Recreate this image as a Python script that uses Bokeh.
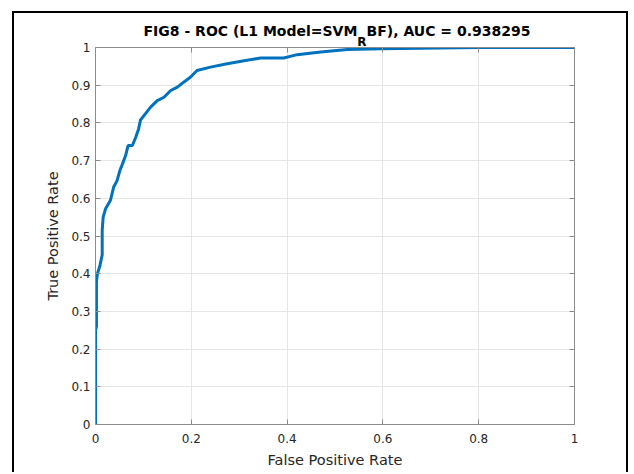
from bokeh.plotting import figure
from bokeh.layouts import column
from bokeh.models import Range1d, LinearAxis, FixedTicker, CustomJSTickFormatter, Div
from bokeh.embed import file_html
from bokeh.resources import INLINE

# ---- data ----
fpr = [0, 0, 0.002, 0.002, 0.004, 0.009, 0.014, 0.014, 0.016, 0.021, 0.031, 0.038,
       0.045, 0.051, 0.056, 0.063, 0.068, 0.077, 0.084, 0.090, 0.094, 0.104, 0.115,
       0.129, 0.143, 0.157, 0.171, 0.184, 0.198, 0.212, 0.240, 0.275, 0.310, 0.345,
       0.393, 0.421, 0.470, 0.526, 0.596, 0.800, 1.0]
tpr = [0, 0.25, 0.26, 0.38, 0.40, 0.42, 0.45, 0.515, 0.55, 0.572, 0.594, 0.63,
       0.647, 0.674, 0.69, 0.714, 0.74, 0.74, 0.762, 0.784, 0.808, 0.824, 0.842,
       0.859, 0.868, 0.886, 0.895, 0.908, 0.921, 0.939, 0.948, 0.957, 0.965, 0.972,
       0.972, 0.981, 0.988, 0.995, 0.997, 1.0, 1.0]

x_ticks = [0, 0.2, 0.4, 0.6, 0.8, 1]
x_tick_labels = ["0", "0.2", "0.4", "0.6", "0.8", "1"]
y_ticks = [0, 0.1, 0.2, 0.3, 0.4, 0.5, 0.6, 0.7, 0.8, 0.9, 1]
y_tick_labels = ["0", "0.1", "0.2", "0.3", "0.4", "0.5", "0.6", "0.7", "0.8", "0.9", "1"]

title_main = "FIG8 - ROC (L1 Model=SVM"
title_sub = "R"
title_rest = "BF), AUC = 0.938295"
x_label = "False Positive Rate"
y_label = "True Positive Rate"

FONT = "DejaVu Sans"
TXT = "#262626"
AX = "#8c8c8c"
GRID = "#e6e6e6"

p = figure(width=616, height=461, x_range=Range1d(0, 1), y_range=Range1d(0, 1),
           output_backend="svg", toolbar_location=None, title=None,
           min_border_left=81, min_border_right=56, min_border_top=34,
           min_border_bottom=50)
p.styles = {"border-top": "2px solid #000", "border-left": "2px solid #000",
            "border-right": "2px solid #000", "margin-left": "12px", "margin-top": "11px",
            "margin-bottom": "-20px", "margin-right": "-12px"}
p.outline_line_color = None
p.background_fill_color = "white"
p.border_fill_color = "white"

p.line(fpr, tpr, line_color="#0072BD", line_width=3)

def style_axis(ax, ticks, labels=None):
    ax.ticker = FixedTicker(ticks=ticks)
    ax.major_tick_in = 5
    ax.major_tick_out = 0
    ax.minor_tick_line_color = None
    ax.axis_line_color = AX
    ax.axis_line_width = 1
    ax.major_tick_line_color = AX
    ax.major_label_text_font = FONT
    ax.major_label_text_font_size = "12px"
    ax.major_label_text_color = TXT
    if labels is not None:
        ax.major_label_overrides = {t: s for t, s in zip(ticks, labels)}

xa = p.xaxis[0]
ya = p.yaxis[0]
style_axis(xa, x_ticks, x_tick_labels)
style_axis(ya, y_ticks, y_tick_labels)
xa.major_label_standoff = 9
ya.major_label_standoff = 5
xa.axis_label = x_label
ya.axis_label = y_label
for ax in (xa, ya):
    ax.axis_label_text_font = FONT
    ax.axis_label_text_font_size = "14.5px"
    ax.axis_label_text_font_style = "normal"
    ax.axis_label_text_color = TXT
xa.axis_label_standoff = 6
ya.axis_label_standoff = 7

blank = CustomJSTickFormatter(code="return ''")
top = LinearAxis(formatter=blank)
right = LinearAxis(formatter=blank)
style_axis(top, x_ticks)
style_axis(right, y_ticks)
top.major_label_standoff = 0
right.major_label_standoff = 0
p.add_layout(top, "above")
p.add_layout(right, "right")

p.xgrid.ticker = FixedTicker(ticks=x_ticks)
p.ygrid.ticker = FixedTicker(ticks=y_ticks)
for g in (p.xgrid[0], p.ygrid[0]):
    g.grid_line_color = GRID
    g.grid_line_width = 1

# title with subscript R (HTML text, placed over the figure)
title_html = (
    f'<div style="font-family: \'{FONT}\'; font-weight: bold; font-size: 14px; '
    f'line-height: 16px; color: #000; white-space: nowrap; text-align: center; width: 674px;">'
    f'{title_main}<span style="font-size: 12px; position: relative; top: 10px;">'
    f'{title_sub}</span>{title_rest}</div>'
)
title_div = Div(text=title_html, width=674, height=16,
                styles={"position": "absolute", "left": "0px", "top": "23px",
                        "z-index": "10", "margin": "0px"})

layout = column(title_div, p)
open("out.html", "w").write(file_html(layout, INLINE))
